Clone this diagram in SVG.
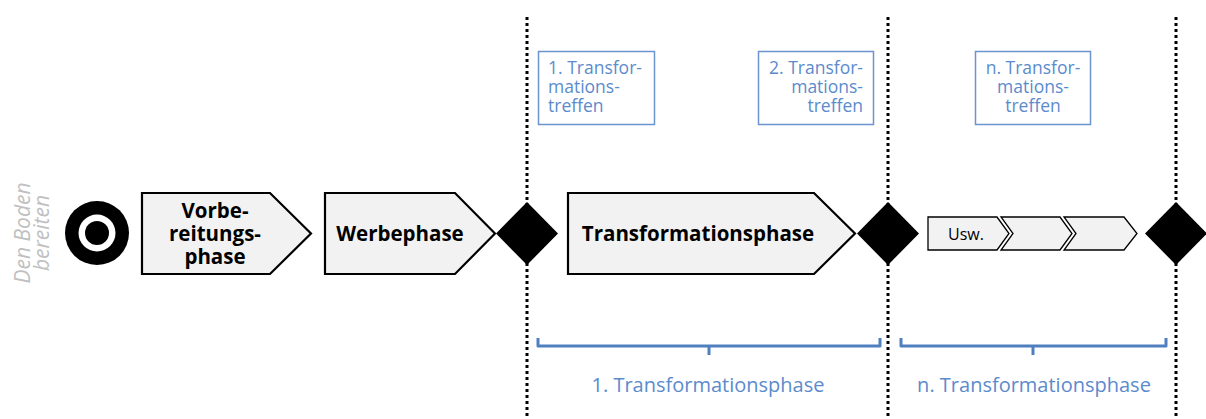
<svg xmlns="http://www.w3.org/2000/svg" width="1206" height="419" viewBox="0 0 1206 419">
  <style>
    .phase { fill: #f2f2f2; stroke: #000; stroke-width: 2.2; stroke-linejoin: miter; }
    .small { fill: #f2f2f2; stroke: #000; stroke-width: 1.3; }
    .gate { fill: #000; }
    .sep { stroke: #000; stroke-width: 3; stroke-dasharray: 3 3; fill: none; }
    .bold { font-family: "Open Sans", "Noto Sans", sans-serif; font-weight: bold; font-size: 20.5px; fill: #000; }
    .note { fill: #fff; stroke: #6b95cf; stroke-width: 1.5; }
    .blue { font-family: "Open Sans", "Noto Sans", sans-serif; font-size: 17.5px; fill: #5b8bcc; }
    .caption { font-size: 20px; }
    .brace { fill: none; stroke: #4f7fbf; stroke-width: 3; stroke-linejoin: round; }
    .side { font-family: "Open Sans", "Noto Sans", sans-serif; font-style: italic; font-size: 21px; fill: #c0c0c0; }
  </style>

  <!-- milestone separators -->
  <g id="connectors">
    <line class="sep" x1="527" y1="17" x2="527" y2="419"/>
    <line class="sep" x1="888" y1="17" x2="888" y2="419"/>
    <line class="sep" x1="1176" y1="17" x2="1176" y2="419"/>
  </g>

  <!-- vertical side label -->
  <g id="label-boden">
    <text class="side" transform="translate(30 233) rotate(-90)" text-anchor="middle">Den Boden</text>
    <text class="side" transform="translate(49 233) rotate(-90)" text-anchor="middle">bereiten</text>
  </g>

  <!-- start event -->
  <g id="start">
    <circle cx="97" cy="233" r="32" fill="#000"/>
    <circle cx="97" cy="233" r="18.5" fill="#fff"/>
    <circle cx="97" cy="233" r="12" fill="#000"/>
  </g>

  <g id="vorbereitung">
    <path class="phase" d="M142,193 H270 L311,233.5 L270,274 H142 Z"/>
    <text class="bold" x="215" y="218" text-anchor="middle">Vorbe-</text>
    <text class="bold" x="215" y="241" text-anchor="middle">reitungs-</text>
    <text class="bold" x="215" y="264" text-anchor="middle">phase</text>
  </g>

  <g id="werbephase">
    <path class="phase" d="M325,193 H455 L495,233.5 L455,274 H325 Z"/>
    <text class="bold" x="400" y="241" text-anchor="middle">Werbephase</text>
  </g>

  <g id="gate1">
    <path class="gate" d="M527,202 L558,233.5 L527,265 L496,233.5 Z"/>
  </g>

  <g id="transformationsphase">
    <path class="phase" d="M568,193 H814 L855,233.5 L814,274 H568 Z"/>
    <text class="bold" x="698" y="241" text-anchor="middle">Transformationsphase</text>
  </g>

  <g id="gate2">
    <path class="gate" d="M888,202 L919,233.5 L888,265 L857,233.5 Z"/>
  </g>

  <g id="usw">
    <path class="small" d="M928,217 H997 L1009,233.5 L997,250 H928 Z"/>
    <text x="948" y="239.5" font-family="Open Sans, Noto Sans, sans-serif" font-size="16" fill="#000">Usw.</text>
  </g>
  <g id="usw-2">
    <path class="small" d="M1001,217 H1060 L1072,233.5 L1060,250 H1001 L1013,233.5 Z"/>
  </g>
  <g id="usw-3">
    <path class="small" d="M1064,217 H1124 L1137,233.5 L1124,250 H1064 L1076,233.5 Z"/>
  </g>

  <g id="gate3">
    <path class="gate" d="M1176,202 L1207,233.5 L1176,265 L1145,233.5 Z"/>
  </g>

  <!-- meeting notes -->
  <g id="treffen-1">
    <rect class="note" x="538.5" y="51.5" width="116" height="73"/>
    <text class="blue" x="548" y="74">1. Transfor-</text>
    <text class="blue" x="548" y="93">mations-</text>
    <text class="blue" x="548" y="112">treffen</text>
  </g>
  <g id="treffen-2">
    <rect class="note" x="758.5" y="51.5" width="115" height="73"/>
    <text class="blue" x="863" y="74" text-anchor="end">2. Transfor-</text>
    <text class="blue" x="863" y="93" text-anchor="end">mations-</text>
    <text class="blue" x="863" y="112" text-anchor="end">treffen</text>
  </g>
  <g id="treffen-n">
    <rect class="note" x="975.5" y="51.5" width="115" height="73"/>
    <text class="blue" x="1033" y="74" text-anchor="middle">n. Transfor-</text>
    <text class="blue" x="1033" y="93" text-anchor="middle">mations-</text>
    <text class="blue" x="1033" y="112" text-anchor="middle">treffen</text>
  </g>

  <!-- phase braces -->
  <g id="brace-1">
    <path class="brace" d="M538,338 V346 H880 V338 M709,346 V355"/>
    <text class="blue caption" x="708" y="392" text-anchor="middle">1. Transformationsphase</text>
  </g>
  <g id="brace-n">
    <path class="brace" d="M901,338 V346 H1166 V338 M1033,346 V355"/>
    <text class="blue caption" x="1034" y="392" text-anchor="middle">n. Transformationsphase</text>
  </g>
</svg>
